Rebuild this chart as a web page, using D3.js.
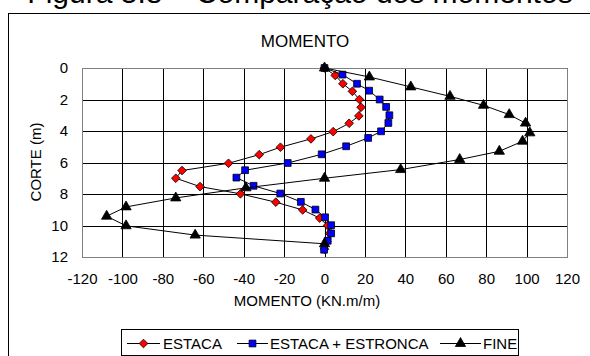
<!DOCTYPE html>
<html>
<head>
<meta charset="utf-8">
<script src="https://cdn.jsdelivr.net/npm/d3@7"></script>
<style>
  html, body { margin: 0; padding: 0; background: #fff; }
  svg { display: block; font-family: Arial, "Liberation Sans", sans-serif; }
</style>
</head>
<body>
<svg id="chart" width="590" height="356"></svg>
<script>
// Bending moment (KN.m/m) against depth (m) for three analyses
const estacaDepth  = [0, 0.47, 1.0, 1.48, 2.0, 2.49, 3.04, 3.51, 4.04, 4.5, 5.03, 5.5, 6.05, 6.51, 7.0, 7.53, 7.99, 8.52, 9.01, 9.53, 10.0, 10.5, 11.0, 11.5];
const estacaMoment = [0, 5.3, 9.1, 13.8, 17.3, 18.1, 17.0, 12.2, 4.3, -6.7, -21.8, -32.3, -47.5, -70.5, -73.6, -61.6, -41.6, -24.1, -10.8, -2.4, 1.5, 2.5, 1.2, 0];

const estroncaDepth  = [0, 0.42, 1.0, 1.44, 2.0, 2.47, 3.0, 3.49, 4.02, 4.44, 4.97, 5.48, 6.03, 6.49, 6.96, 7.48, 7.97, 8.5, 8.99, 9.48, 9.98, 10.5, 10.97, 11.54];
const estroncaMoment = [0, 8.9, 16.1, 22.1, 27.3, 30.5, 32.1, 31.6, 28.0, 21.6, 10.7, -1.4, -18.2, -39.3, -43.6, -35.1, -21.9, -11.7, -4.5, 0.3, 3.3, 3.3, 1.6, -0.2];

const fineDepth  = [0, 0.57, 1.2, 1.8, 2.37, 2.96, 3.5, 4.12, 4.65, 5.29, 5.81, 6.45, 7.0, 7.61, 8.25, 8.82, 9.41, 10.02, 10.61, 11.16];
const fineMoment = [0, 22.2, 42.7, 62.1, 78.7, 91.4, 99.5, 101.6, 98.0, 86.5, 66.9, 37.7, 0, -38.9, -73.6, -98.2, -107.8, -98.2, -64.0, 0];

const xTicks = [-120, -100, -80, -60, -40, -20, 0, 20, 40, 60, 80, 100, 120];
const yTicks = [0, 2, 4, 6, 8, 10, 12];

const seriesNames = ["ESTACA", "ESTACA + ESTRONCA", "FINE"];

const series = [
  { name: seriesNames[0], depth: estacaDepth,   moment: estacaMoment,   shape: d3.symbolDiamond2, size: 48, fill: "#ff0000" },
  { name: seriesNames[1], depth: estroncaDepth, moment: estroncaMoment, shape: d3.symbolSquare,   size: 46, fill: "#0000ff" },
  { name: seriesNames[2], depth: fineDepth,     moment: fineMoment,     shape: d3.symbolTriangle, size: 46, fill: "#000000" }
];

const FS = 15;
const svg = d3.select("#chart");

// caption of the figure, running above the chart frame
svg.append("text")
  .attr("x", 300).attr("y", 3)
  .attr("text-anchor", "middle")
  .attr("font-size", 30)
  .attr("fill", "#000")
  .text("Figura 5.8 – Comparação dos momentos");

svg.append("rect")
  .attr("x", 8.5).attr("y", 13.5)
  .attr("width", 600).attr("height", 400)
  .attr("fill", "#fff")
  .attr("stroke", "#000").attr("stroke-width", 1);

const plot = { left: 82, right: 567, top: 68, bottom: 257 };

const x = d3.scaleLinear().domain([-120, 120]).range([plot.left, plot.right]);
const y = d3.scaleLinear().domain([0, 12]).range([plot.top, plot.bottom]);

// title
svg.append("text")
  .attr("x", 305).attr("y", 47)
  .attr("text-anchor", "middle")
  .attr("font-size", 17)
  .text("MOMENTO");

// grid lines
const grid = svg.append("g");
grid.selectAll("line.v").data(xTicks.slice(1, -1)).join("line")
  .attr("class", "v")
  .attr("x1", d => Math.round(x(d)) + 0.5).attr("x2", d => Math.round(x(d)) + 0.5)
  .attr("y1", plot.top).attr("y2", plot.bottom)
  .attr("stroke", "#000").attr("stroke-width", 1);
grid.selectAll("line.h").data(yTicks.slice(1, -1)).join("line")
  .attr("class", "h")
  .attr("x1", plot.left).attr("x2", plot.right)
  .attr("y1", d => Math.round(y(d)) + 0.5).attr("y2", d => Math.round(y(d)) + 0.5)
  .attr("stroke", "#000").attr("stroke-width", 1);

// plot border
svg.append("rect")
  .attr("x", plot.left + 0.5).attr("y", plot.top + 0.5)
  .attr("width", plot.right - plot.left).attr("height", plot.bottom - plot.top)
  .attr("fill", "none").attr("stroke", "#808080").attr("stroke-width", 1);

// axes (labels only; lines are drawn by the grid and border)
const fmt = d => String(d);
const xAxis = svg.append("g")
  .attr("transform", `translate(0,${plot.bottom + 10})`)
  .call(d3.axisBottom(x).tickValues(xTicks).tickFormat(fmt).tickSize(0).tickPadding(6));
xAxis.select(".domain").remove();
xAxis.selectAll("text").attr("font-size", FS).attr("fill", "#000")
  .attr("font-family", "Arial, 'Liberation Sans', sans-serif");

const yAxis = svg.append("g")
  .attr("transform", `translate(${plot.left - 8},0)`)
  .call(d3.axisLeft(y).tickValues(yTicks).tickFormat(fmt).tickSize(0).tickPadding(6));
yAxis.select(".domain").remove();
yAxis.selectAll("text").attr("font-size", FS).attr("fill", "#000")
  .attr("font-family", "Arial, 'Liberation Sans', sans-serif");

// axis titles
svg.append("text")
  .attr("x", 307).attr("y", 306)
  .attr("text-anchor", "middle")
  .attr("font-size", FS)
  .text("MOMENTO (KN.m/m)");

svg.append("text")
  .attr("transform", "translate(41,162) rotate(-90)")
  .attr("text-anchor", "middle")
  .attr("font-size", FS)
  .text("CORTE (m)");

// series lines and markers
const line = d3.line().x(d => x(d[0])).y(d => y(d[1]));

series.forEach(s => {
  const pts = s.moment.map((m, i) => [m, s.depth[i]]);
  const g = svg.append("g");
  g.append("path")
    .attr("d", line(pts))
    .attr("fill", "none")
    .attr("stroke", "#000").attr("stroke-width", 1);
  g.selectAll("path.mk").data(pts).join("path")
    .attr("class", "mk")
    .attr("transform", d => `translate(${x(d[0])},${y(d[1])})`)
    .attr("d", d3.symbol().type(s.shape).size(s.size))
    .attr("fill", s.fill)
    .attr("stroke", "#000").attr("stroke-width", 0.8);
});

// legend
const legend = svg.append("g");
legend.append("rect")
  .attr("x", 121.5).attr("y", 329.5)
  .attr("width", 397).attr("height", 26)
  .attr("fill", "#fff").attr("stroke", "#000").attr("stroke-width", 1);

const legendItems = [
  { x0: 127, x1: 160, tx: 163 },
  { x0: 237, x1: 268, tx: 270 },
  { x0: 440, x1: 481, tx: 483 }
];
const ly = 343;
series.forEach((s, i) => {
  const it = legendItems[i];
  legend.append("line")
    .attr("x1", it.x0).attr("x2", it.x1)
    .attr("y1", ly + 0.5).attr("y2", ly + 0.5)
    .attr("stroke", "#000").attr("stroke-width", 1);
  legend.append("path")
    .attr("transform", `translate(${(it.x0 + it.x1) / 2},${ly + 0.5})`)
    .attr("d", d3.symbol().type(s.shape).size(s.size))
    .attr("fill", s.fill)
    .attr("stroke", "#000").attr("stroke-width", 0.8);
  legend.append("text")
    .attr("x", it.tx).attr("y", ly + 6)
    .attr("font-size", FS)
    .text(s.name);
});
</script>
</body>
</html>
